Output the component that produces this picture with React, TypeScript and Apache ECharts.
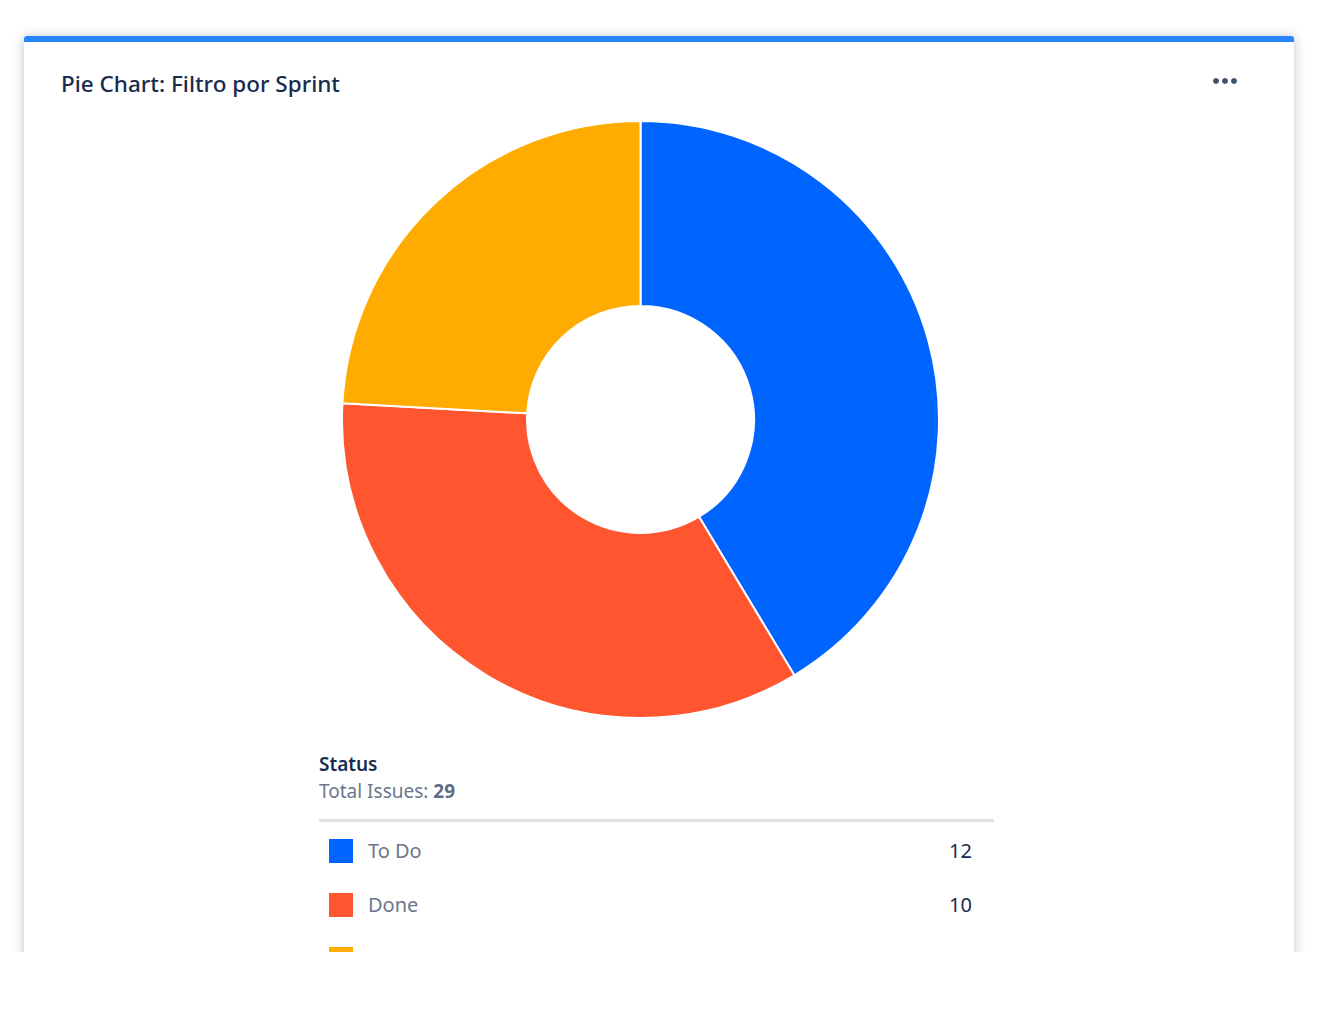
import React, { useEffect, useRef } from "react";
import * as echarts from "echarts";

const categories = ["To Do", "Done", "In Progress"];
const values = [12, 10, 7];
const colors = ["#0065FF", "#FF5630", "#FFAB00"];
const title = "Pie Chart: Filtro por Sprint";
const legendTitle = "Status";
const totalLabel = "Total Issues: ";

const FONT = "'Noto Sans', 'Open Sans', sans-serif";

export default function App() {
  const ref = useRef<HTMLDivElement>(null);
  useEffect(() => {
    if (!ref.current) return;
    const chart = echarts.init(ref.current, undefined, { renderer: "svg" });
    const total = values.reduce((a, b) => a + b, 0);
    const rowY0 = 850;
    const rowStep = 54;
    const legendRows: any[] = [];
    categories.forEach((c, i) => {
      const y = rowY0 + i * rowStep;
      legendRows.push(
        { type: "rect", shape: { x: 329, y: y - 11, width: 24, height: 24 }, style: { fill: colors[i] }, z: 10 },
        { type: "text", x: 368, y, style: { text: c, fill: "#6B778C", font: `20px ${FONT}`, textVerticalAlign: "middle" }, z: 10 },
        { type: "text", x: 972, y, style: { text: String(values[i]), fill: "#172B4D", font: `20px ${FONT}`, textAlign: "right", textVerticalAlign: "middle" }, z: 10 }
      );
    });
    chart.setOption({
      animation: false,
      backgroundColor: "#ffffff",
      graphic: [
        { type: "rect", shape: { x: 24, y: 36, width: 1270, height: 1000, r: 3 }, style: { fill: "#ffffff", shadowBlur: 12, shadowColor: "rgba(9,30,66,0.25)", shadowOffsetY: 1 }, z: -10 },
        { type: "rect", shape: { x: 24, y: 36, width: 1270, height: 6, r: [3, 3, 0, 0] }, style: { fill: "#2684FF" }, z: -9 },
        { type: "text", x: 61, y: 83, style: { text: title, fill: "#172B4D", font: `500 22.5px ${FONT}`, textVerticalAlign: "middle" }, z: 10 },
        { type: "circle", shape: { cx: 1216, cy: 81, r: 3 }, style: { fill: "#42526E" }, z: 10 },
        { type: "circle", shape: { cx: 1225, cy: 81, r: 3 }, style: { fill: "#42526E" }, z: 10 },
        { type: "circle", shape: { cx: 1234, cy: 81, r: 3 }, style: { fill: "#42526E" }, z: 10 },
        { type: "text", x: 319, y: 764, style: { text: legendTitle, fill: "#172B4D", font: `600 19px ${FONT}`, textVerticalAlign: "middle" }, z: 10 },
        {
          type: "text", x: 319, y: 791,
          style: {
            text: `{a|${totalLabel}}{b|${total}}`,
            textVerticalAlign: "middle",
            rich: {
              a: { fill: "#6B778C", font: `19px ${FONT}` },
              b: { fill: "#5E6C84", font: `bold 19px ${FONT}` },
            },
          },
          z: 10,
        },
        { type: "rect", shape: { x: 319, y: 819, width: 675, height: 3 }, style: { fill: "#DFE1E6" }, z: 10 },
        ...legendRows,
      ],
      series: [
        {
          type: "pie",
          center: [640.5, 419.5],
          radius: [113.5, 298.5],
          startAngle: 90,
          clockwise: true,
          label: { show: false },
          labelLine: { show: false },
          emphasis: { disabled: true },
          itemStyle: { borderColor: "#ffffff", borderWidth: 2 },
          data: categories.map((c, i) => ({ name: c, value: values[i], itemStyle: { color: colors[i] } })),
        },
      ],
    });
    return () => chart.dispose();
  }, []);
  return (
    <div
      ref={ref}
      style={{ position: "absolute", left: 0, top: 0, width: 1342, height: 952 }}
    />
  );
}
